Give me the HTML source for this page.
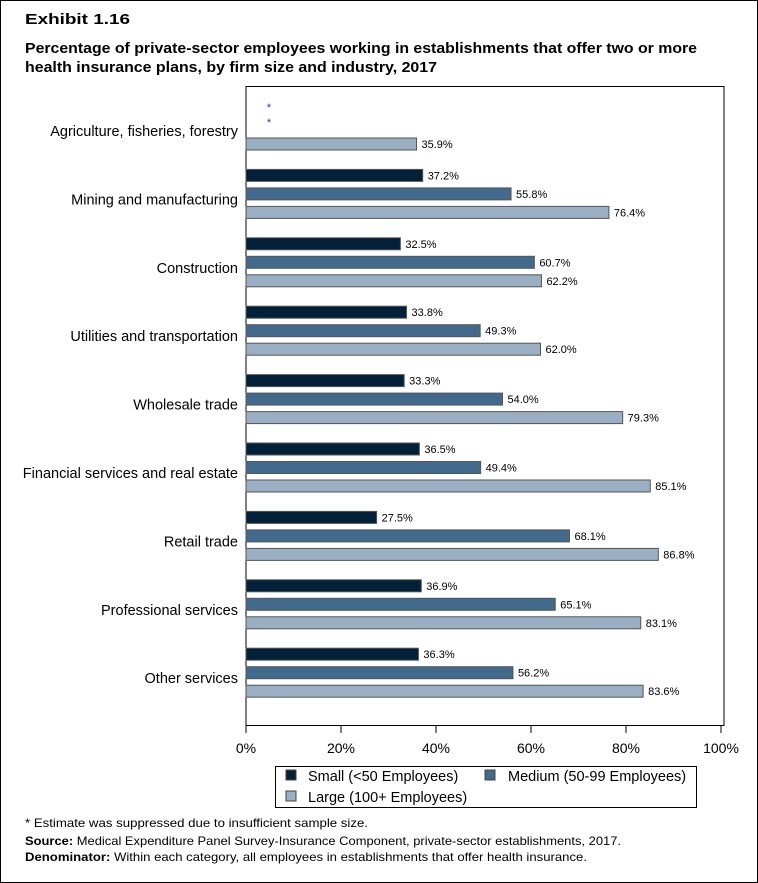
<!DOCTYPE html>
<html><head><meta charset="utf-8"><style>
html,body{margin:0;padding:0;background:#fff}
svg{display:block;font-family:"Liberation Sans",Arial,sans-serif}
</style></head><body>
<svg id="chart" width="758" height="883" viewBox="0 0 758 883">
<rect x="0.5" y="0.5" width="757" height="882" fill="#fff" stroke="#000"/>
<g font-weight="bold" font-size="15" fill="#000">
<text x="25" y="24" textLength="105" lengthAdjust="spacingAndGlyphs">Exhibit 1.16</text>
<text x="25" y="53" textLength="672" lengthAdjust="spacingAndGlyphs">Percentage of private-sector employees working in establishments that offer two or more</text>
<text x="25" y="72" textLength="412" lengthAdjust="spacingAndGlyphs">health insurance plans, by firm size and industry, 2017</text>
</g>
<rect x="246" y="86.5" width="478" height="639" fill="#fff" stroke="#000"/>
<g id="bars"></g>
<g id="xaxis"></g>
<g font-size="14.5">
<rect x="275.5" y="766.5" width="421" height="41" fill="#fff" stroke="#000"/>
<rect x="286" y="770" width="10" height="10" fill="#022038" stroke="#444"/>
<text x="308" y="781">Small (&lt;50 Employees)</text>
<rect x="485" y="770" width="10" height="10" fill="#426a8c" stroke="#444"/>
<text x="508" y="781">Medium (50-99 Employees)</text>
<rect x="286" y="791" width="10" height="10" fill="#9aafc4" stroke="#444"/>
<text x="308" y="802">Large (100+ Employees)</text>
</g>
<g font-size="12">
<text x="25" y="827" textLength="343" lengthAdjust="spacingAndGlyphs">* Estimate was suppressed due to insufficient sample size.</text>
<text x="25" y="845" textLength="596" lengthAdjust="spacingAndGlyphs"><tspan font-weight="bold">Source:</tspan> Medical Expenditure Panel Survey-Insurance Component, private-sector establishments, 2017.</text>
<text x="25" y="861" textLength="562" lengthAdjust="spacingAndGlyphs"><tspan font-weight="bold">Denominator:</tspan> Within each category, all employees in establishments that offer health insurance.</text>
</g>
</svg>
<script>
const categories=["Agriculture, fisheries, forestry","Mining and manufacturing","Construction","Utilities and transportation","Wholesale trade","Financial services and real estate","Retail trade","Professional services","Other services"];
const smallVals=[null,37.2,32.5,33.8,33.3,36.5,27.5,36.9,36.3];
const mediumVals=[null,55.8,60.7,49.3,54.0,49.4,68.1,65.1,56.2];
const largeVals=[35.9,76.4,62.2,62.0,79.3,85.1,86.8,83.1,83.6];
const tickVals=[0,20,40,60,80,100];
const NS="http://www.w3.org/2000/svg";
const x=v=>246+v*4.75;
const yc=i=>131+i*68.4;
function mk(t,a,p){const e=document.createElementNS(NS,t);for(const k in a)e.setAttribute(k,a[k]);p.appendChild(e);return e;}
const bars=document.getElementById('bars');
const series=[[smallVals,'#022038',-24,'small',4],[mediumVals,'#426a8c',-5.5,'medium',0.5],[largeVals,'#9aafc4',13,'large',0]];
categories.forEach((c,i)=>{
  const t=mk('text',{x:238,y:yc(i)+5,'text-anchor':'end','font-size':14.5},bars);
  t.textContent=c;
  
  
  series.forEach(([vals,col,off,nm,so])=>{
    const v=vals[i];const cy=yc(i)+off;
    if(v==null){
      const s=mk('text',{x:269,y:cy+so,'text-anchor':'middle','font-size':11,fill:'#1f3f9f'},bars);
      s.textContent='*';
      
      
      return;
    }
    const r=mk('rect',{x:246,y:cy-6,width:x(v)-246,height:12,fill:col,stroke:'#555','stroke-width':1},bars);
    
    
    const l=mk('text',{x:x(v)+5,y:cy+4,'font-size':11},bars);
    l.textContent=v.toFixed(1)+'%';
    
    
  });
});
const ax=document.getElementById('xaxis');
tickVals.forEach(v=>{
  const ln=mk('line',{x1:x(v),x2:x(v),y1:726,y2:733,stroke:'#000'},ax);
  
  
  const t=mk('text',{x:x(v),y:753,'text-anchor':'middle','font-size':14},ax);
  t.textContent=v+'%';
  
  
});
</script>
</body></html>
